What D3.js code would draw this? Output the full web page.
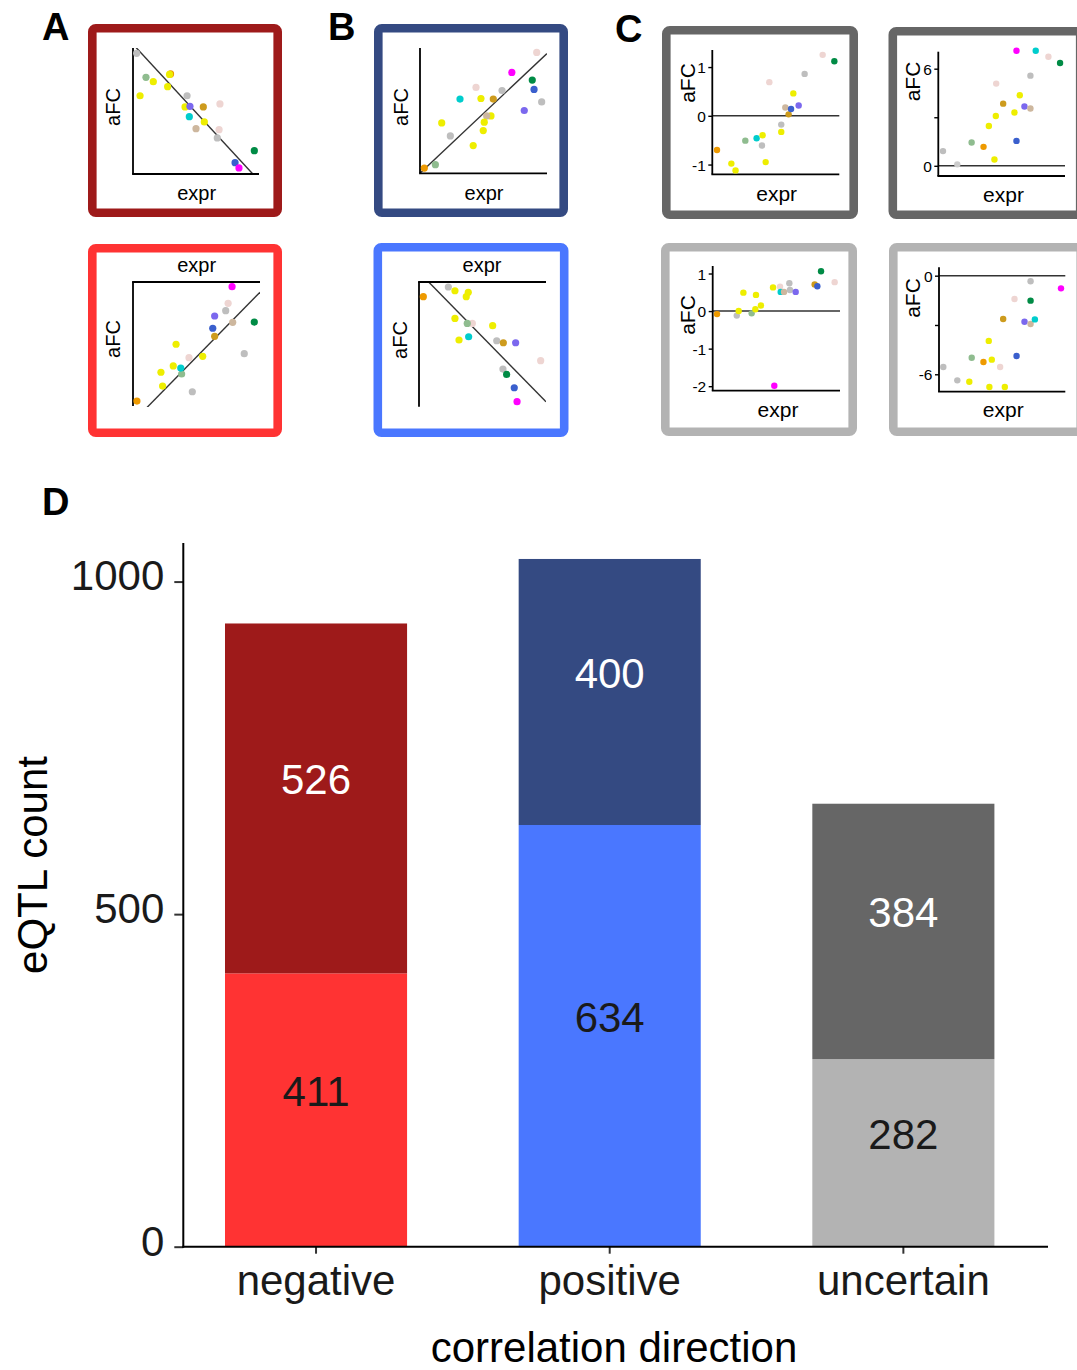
<!DOCTYPE html>
<html><head><meta charset="utf-8">
<script src="https://cdn.jsdelivr.net/npm/d3@7"></script>
<style>
html,body{margin:0;padding:0;background:#fff;}
svg{display:block;font-family:"Liberation Sans",Arial,Helvetica,sans-serif;}
</style></head><body>
<svg id="fig" width="1077" height="1370"></svg>
<script>
// ---- D: eQTL counts by correlation direction ----
const directions = ["negative", "positive", "uncertain"];
const baseCounts = [411, 634, 282];   // lower (light) segment
const topCounts  = [526, 400, 384];   // upper (dark) segment
const countTicks = [0, 500, 1000];

const lightFill = ["#FF3333", "#4A77FF", "#B3B3B3"];
const darkFill  = ["#9E1A1A", "#344A82", "#666666"];

// ---- example scatter panels: [expr, aFC, tissue] ----
const exprDomain = [0, 10];

const aTopPoints = [
  [0.29,9.58,"gray"],[1.03,7.67,"sage"],[1.61,7.33,"yellow"],[2.98,7.94,"orange"],[2.90,7.90,"yellow"],
  [2.75,6.93,"yellow"],[0.56,6.21,"yellow"],[4.29,6.21,"gray"],[4.13,5.32,"yellow"],[4.52,5.37,"purple"],
  [5.58,5.32,"gold"],[6.90,5.56,"pink"],[4.47,4.55,"cyan"],[5.66,4.13,"yellow"],[5.00,3.60,"tan"],
  [6.83,3.52,"pink"],[6.69,2.86,"gray"],[9.63,1.85,"green"],[8.10,0.90,"blue"],[8.41,0.48,"magenta"]
];
const aTopFit = [10.3, -1.083];

const aBottomPoints = [
  [7.80,-0.38,"magenta"],[7.49,-1.72,"pink"],[7.30,-2.31,"gray"],[6.43,-2.74,"purple"],[7.85,-3.25,"tan"],
  [9.55,-3.23,"green"],[6.28,-3.73,"blue"],[6.43,-4.38,"gold"],[3.39,-5.02,"yellow"],[4.41,-6.10,"pink"],
  [5.49,-5.99,"yellow"],[8.76,-5.78,"gray"],[2.20,-7.28,"yellow"],[3.17,-6.77,"yellow"],[3.83,-7.42,"sage"],
  [3.76,-6.94,"cyan"],[2.33,-8.39,"yellow"],[4.67,-8.85,"gray"],[0.31,-9.60,"orange"]
];
const aBottomFit = [-11.27, 1.045];

const bTopPoints = [
  [9.19,9.65,"pink"],[7.23,8.05,"magenta"],[8.84,7.44,"green"],[8.98,6.69,"blue"],[9.58,5.70,"gray"],
  [8.21,5.01,"purple"],[4.41,6.85,"pink"],[6.46,6.61,"gray"],[3.15,5.92,"cyan"],[4.80,5.97,"yellow"],
  [5.77,5.92,"gold"],[5.59,4.58,"yellow"],[5.25,4.58,"tan"],[5.06,4.08,"yellow"],[4.98,3.41,"yellow"],
  [1.71,4.02,"yellow"],[2.39,2.98,"gray"],[4.19,2.21,"yellow"],[1.21,0.69,"sage"],[0.34,0.42,"orange"]
];
const bTopFit = [0, 0.956];

const bBottomPoints = [
  [2.31,-0.40,"gray"],[2.83,-0.70,"yellow"],[3.88,-0.83,"yellow"],[3.72,-1.18,"yellow"],[0.34,-1.18,"orange"],
  [2.83,-2.92,"yellow"],[4.20,-3.32,"pink"],[3.80,-3.32,"sage"],[5.80,-3.50,"yellow"],[3.15,-4.65,"yellow"],
  [3.91,-4.39,"cyan"],[6.12,-4.71,"gray"],[6.64,-4.87,"gold"],[7.61,-4.87,"purple"],[9.58,-6.31,"pink"],
  [6.61,-6.98,"gray"],[6.90,-7.41,"green"],[7.50,-8.48,"blue"],[7.72,-9.60,"magenta"]
];
const bBottomFit = [0.79, -1.039];

const cTopLeftPoints = [
  [0.37,-0.70,"orange"],[1.50,-0.98,"yellow"],[1.83,-1.12,"yellow"],[2.60,-0.51,"sage"],[3.49,-0.46,"cyan"],
  [3.96,-0.40,"yellow"],[3.91,-0.61,"gray"],[4.20,-0.95,"yellow"],[4.49,0.69,"pink"],[5.43,-0.33,"yellow"],
  [5.43,-0.18,"gray"],[5.75,0.17,"tan"],[6.01,0.03,"gold"],[6.20,0.14,"blue"],[6.80,0.21,"purple"],
  [6.38,0.46,"yellow"],[7.27,0.86,"gray"],[8.69,1.25,"pink"],[9.61,1.12,"green"]
];
const cTopLeftTicks = [-1, 0, 1];
const cTopLeftTickLabels = ["-1", "0", "1"];

const cTopRightPoints = [
  [0.37,0.91,"gray"],[1.50,0.09,"lightgray"],[2.63,1.44,"sage"],[3.57,1.17,"orange"],[4.43,0.39,"yellow"],
  [3.99,2.46,"yellow"],[4.54,3.08,"yellow"],[5.12,3.84,"gold"],[4.57,5.08,"pink"],[6.01,3.29,"yellow"],
  [6.43,4.36,"yellow"],[6.17,1.54,"blue"],[6.80,3.66,"purple"],[7.27,3.54,"tan"],[7.27,5.57,"gray"],
  [6.17,7.11,"magenta"],[7.69,7.11,"cyan"],[8.69,6.74,"pink"],[9.61,6.35,"green"]
];
const cTopRightTicks = [0, 3, 6];
const cTopRightTickLabels = ["0", "", "6"];

const cBottomLeftPoints = [
  [0.34,-0.08,"orange"],[1.89,-0.12,"gray"],[2.04,0.00,"yellow"],[2.41,0.49,"yellow"],[3.06,-0.06,"sage"],
  [3.35,0.05,"yellow"],[3.40,0.43,"yellow"],[3.79,0.15,"yellow"],[4.74,0.63,"yellow"],[5.29,0.65,"pink"],
  [5.34,0.51,"cyan"],[5.60,0.51,"tan"],[6.02,0.74,"gray"],[6.07,0.56,"gray"],[6.52,0.51,"purple"],
  [4.84,-1.99,"magenta"],[8.01,0.71,"gold"],[8.22,0.66,"blue"],[8.51,1.06,"green"],[9.58,0.77,"pink"]
];
const cBottomLeftTicks = [-2, -1, 0, 1];
const cBottomLeftTickLabels = ["-2", "-1", "0", "1"];

const cBottomRightPoints = [
  [0.34,-5.56,"gray"],[1.45,-6.37,"gray"],[2.40,-6.45,"yellow"],[2.59,-4.99,"sage"],[3.52,-5.25,"orange"],
  [4.18,-5.11,"yellow"],[3.94,-3.97,"yellow"],[3.99,-6.77,"yellow"],[5.21,-6.77,"yellow"],[4.84,-5.56,"pink"],
  [5.08,-2.64,"gold"],[6.14,-4.89,"blue"],[5.98,-1.42,"pink"],[6.77,-2.80,"purple"],[7.25,-2.94,"tan"],
  [7.59,-2.66,"cyan"],[7.25,-1.52,"green"],[7.25,-0.34,"gray"],[9.66,-0.77,"magenta"]
];
const cBottomRightTicks = [-6, -3, 0];
const cBottomRightTickLabels = ["-6", "", "0"];

const tissueColors = {
  gray:"#BEBEBE", lightgray:"#CCCCCC", sage:"#8FBC8F", yellow:"#EEEE00", orange:"#EE9A00",
  gold:"#CD9B1D", pink:"#EED5D2", tan:"#CDB79E", cyan:"#00CDCD", purple:"#7B68EE",
  blue:"#3A5FCD", green:"#008B45", magenta:"#FF00FF"
};

const svg = d3.select("#fig");

// ---------- small scatter panels ----------
function drawPanel(p) {
  const g = svg.append("g");
  const sw = 8.6;
  const [bx, by, bw, bh] = p.box;
  g.append("rect")
    .attr("x", bx + sw / 2).attr("y", by + sw / 2)
    .attr("width", bw - sw).attr("height", bh - sw)
    .attr("rx", 3.5).attr("fill", "#fff")
    .attr("stroke", p.frame).attr("stroke-width", sw);

  const [x0, y0, x1, y1] = p.plot;
  const x = d3.scaleLinear().domain(exprDomain).range([x0, x1]);
  const y = d3.scaleLinear().domain(p.yDomain).range([y1, y0]);

  const clipId = "clip-" + p.id;
  g.append("clipPath").attr("id", clipId)
    .append("rect").attr("x", x0).attr("y", y0).attr("width", x1 - x0).attr("height", y1 - y0 + 1);

  if (p.fit) {
    const [a, b] = p.fit;
    g.append("line").attr("clip-path", `url(#${clipId})`)
      .attr("x1", x(exprDomain[0])).attr("y1", y(a + b * exprDomain[0]))
      .attr("x2", x(exprDomain[1])).attr("y2", y(a + b * exprDomain[1]))
      .attr("stroke", "#333").attr("stroke-width", 1.4);
  }
  if (p.zeroLine) {
    g.append("line").attr("x1", x0).attr("x2", x1).attr("y1", y(0)).attr("y2", y(0))
      .attr("stroke", "#333").attr("stroke-width", 1.4);
  }

  // axis lines
  g.append("line").attr("x1", x0).attr("x2", x0).attr("y1", y0).attr("y2", y1)
    .attr("stroke", "#000").attr("stroke-width", 1.8);
  const xAxisY = p.axisTop ? y0 : y1;
  g.append("line").attr("x1", x0 - 0.9).attr("x2", x1).attr("y1", xAxisY).attr("y2", xAxisY)
    .attr("stroke", "#000").attr("stroke-width", 1.8);

  if (p.ticks) {
    const ax = g.append("g").attr("transform", `translate(${x0},0)`)
      .call(d3.axisLeft(y).tickValues(p.ticks)
        .tickFormat((d, i) => p.tickLabels[i]).tickSize(4).tickPadding(2.5));
    ax.select(".domain").remove();
    ax.selectAll(".tick line").attr("stroke", "#000").attr("stroke-width", 1.4);
    ax.selectAll(".tick text").attr("font-size", 15.5).attr("fill", "#000")
      .attr("font-family", "Liberation Sans, Arial, sans-serif").attr("dy", "0.36em");
  }

  g.selectAll("circle.pt").data(p.points).join("circle")
    .attr("class", "pt")
    .attr("cx", d => x(d[0])).attr("cy", d => y(d[1]))
    .attr("r", p.r).attr("fill", d => tissueColors[d[2]]);

  g.append("text").attr("transform", `translate(${p.aLab[0]},${p.aLab[1]}) rotate(-90)`)
    .attr("text-anchor", "middle").attr("dy", "0.35em")
    .attr("font-size", p.fs).text("aFC");
  g.append("text").attr("x", p.eLab[0]).attr("y", p.eLab[1])
    .attr("text-anchor", "middle").attr("font-size", p.fs).text("expr");
}

const panels = [
  {id:"aTop", points:aTopPoints, fit:aTopFit, frame:darkFill[0], box:[88,24,194,193], plot:[133,48,259,174],
   yDomain:[0,10], aLab:[112.5,107], eLab:[196.7,199.5], r:3.6, fs:20},
  {id:"aBottom", points:aBottomPoints, fit:aBottomFit, frame:lightFill[0], box:[88,244,194,193], plot:[133,282,260,406],
   yDomain:[-10,0], axisTop:true, aLab:[112.5,339], eLab:[196.7,272], r:3.6, fs:20},
  {id:"bTop", points:bTopPoints, fit:bTopFit, frame:darkFill[1], box:[374,24,194,193], plot:[420,48,547,173.3],
   yDomain:[0,10], aLab:[400.5,107], eLab:[484,199.5], r:3.6, fs:20},
  {id:"bBottom", points:bBottomPoints, fit:bBottomFit, frame:lightFill[1], box:[373.5,243,195,194], plot:[419,282,546,406.7],
   yDomain:[-10,0], axisTop:true, aLab:[400,340], eLab:[482,272], r:3.6, fs:20},
  {id:"cTL", points:cTopLeftPoints, frame:darkFill[2], box:[662,26,196,193], plot:[712.3,50,839.3,174.3],
   yDomain:[-1.2,1.35], zeroLine:true, ticks:cTopLeftTicks, tickLabels:cTopLeftTickLabels,
   aLab:[687.5,83], eLab:[776.7,200.5], r:3.2, fs:21},
  {id:"cTR", points:cTopRightPoints, frame:darkFill[2], box:[888.5,27,196,192], plot:[938.3,51.7,1065,176],
   yDomain:[-0.63,7.05], zeroLine:true, ticks:cTopRightTicks, tickLabels:cTopRightTickLabels,
   aLab:[913,81.5], eLab:[1003.5,202], r:3.2, fs:21},
  {id:"cBL", points:cBottomLeftPoints, frame:lightFill[2], box:[661,243,196,193], plot:[712.7,266,840,390.7],
   yDomain:[-2.12,1.2], zeroLine:true, ticks:cBottomLeftTicks, tickLabels:cBottomLeftTickLabels,
   aLab:[688,315], eLab:[778,416.5], r:3.2, fs:21},
  {id:"cBR", points:cBottomRightPoints, frame:lightFill[2], box:[889,243,196,193], plot:[939,267.3,1065.3,391.7],
   yDomain:[-7.06,0.51], zeroLine:true, ticks:cBottomRightTicks, tickLabels:cBottomRightTickLabels,
   aLab:[913,298], eLab:[1003.3,416.5], r:3.2, fs:21}
];
panels.forEach(drawPanel);

// ---------- panel letters ----------
[["A",42,40],["B",328,40],["C",615,41.5],["D",42,515]].forEach(([t,x,y]) => {
  svg.append("text").attr("x", x).attr("y", y).attr("font-size", 38)
    .attr("font-weight", "bold").attr("fill", "#000").text(t);
});

// ---------- D: stacked bars ----------
const rows = directions.map((d, i) => ({direction: d, base: baseCounts[i], top: topCounts[i], i}));
const stack = d3.stack().keys(["base", "top"])(rows);

const yMain = d3.scaleLinear().domain([0, 1058]).range([1246.7, 543]);
const xMain = d3.scaleBand().domain(directions).range([169.2, 1050.2])
  .paddingInner(0.38).paddingOuter(0.19);

const bars = svg.append("g");
stack.forEach(layer => {
  const fills = layer.key === "base" ? lightFill : darkFill;
  const txtFill = layer.key === "base" ? "#1a1a1a" : "#ffffff";
  layer.forEach(seg => {
    const r = seg.data;
    bars.append("rect")
      .attr("x", xMain(r.direction)).attr("width", xMain.bandwidth())
      .attr("y", yMain(seg[1])).attr("height", yMain(seg[0]) - yMain(seg[1]))
      .attr("fill", fills[r.i]);
    bars.append("text")
      .attr("x", xMain(r.direction) + xMain.bandwidth() / 2)
      .attr("y", yMain((seg[0] + seg[1]) / 2) - 4)
      .attr("text-anchor", "middle").attr("font-size", 42).attr("fill", txtFill)
      .text(seg[1] - seg[0]);
  });
});

// axes
const yAx = svg.append("g").attr("transform", "translate(183.3,0)")
  .call(d3.axisLeft(yMain).tickValues(countTicks).tickFormat(d3.format("d"))
    .tickSize(9).tickPadding(10));
yAx.select(".domain").remove();
yAx.selectAll(".tick line").attr("stroke", "#333").attr("stroke-width", 2);
yAx.selectAll(".tick text").attr("font-size", 42).attr("fill", "#1a1a1a")
  .attr("font-family", "Liberation Sans, Arial, sans-serif").attr("dy", "0.2em");

const xAx = svg.append("g").attr("transform", "translate(0,1246.7)")
  .call(d3.axisBottom(xMain).tickSize(7).tickPadding(11.5));
xAx.select(".domain").remove();
xAx.selectAll(".tick line").attr("stroke", "#333").attr("stroke-width", 2);
xAx.selectAll(".tick text").attr("font-size", 42).attr("fill", "#1a1a1a")
  .attr("font-family", "Liberation Sans, Arial, sans-serif");

svg.append("line").attr("x1", 183.3).attr("x2", 183.3).attr("y1", 543).attr("y2", 1247.7)
  .attr("stroke", "#000").attr("stroke-width", 2);
svg.append("line").attr("x1", 182.3).attr("x2", 1048).attr("y1", 1246.7).attr("y2", 1246.7)
  .attr("stroke", "#000").attr("stroke-width", 2);

svg.append("text").attr("transform", "translate(32,865) rotate(-90)")
  .attr("text-anchor", "middle").attr("dy", "0.35em").attr("font-size", 42).attr("fill", "#000")
  .text("eQTL count");
svg.append("text").attr("x", 614).attr("y", 1362).attr("text-anchor", "middle")
  .attr("font-size", 42).attr("fill", "#000").text("correlation direction");
</script></body></html>
